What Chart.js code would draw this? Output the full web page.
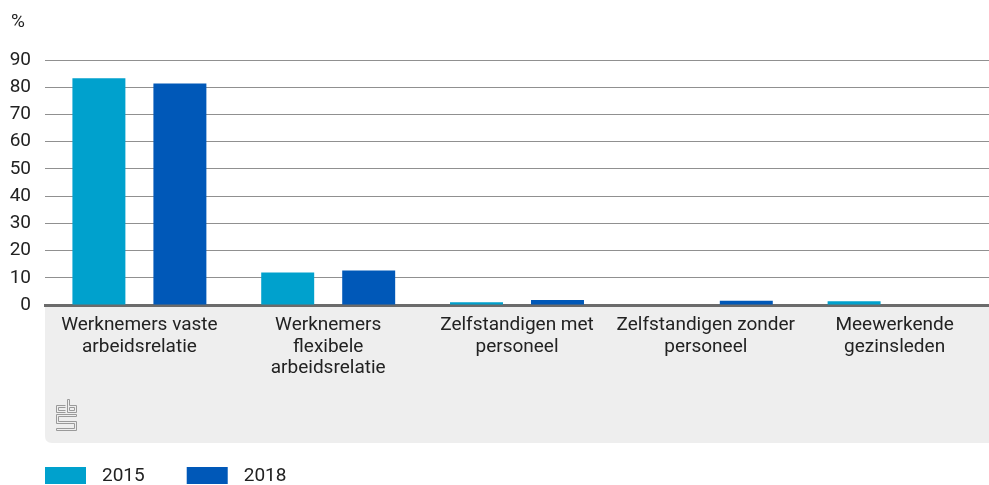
<!DOCTYPE html>
<html>
<head>
<meta charset="utf-8">
<script src="https://cdn.jsdelivr.net/npm/chart.js@4/dist/chart.umd.min.js"></script>
<style>
  html, body { margin: 0; padding: 0; background: #ffffff; }
  canvas { display: block; }
</style>
</head>
<body>
<canvas id="c" width="989" height="485"></canvas>
<script>
const categories = [
  ["Werknemers vaste", "arbeidsrelatie"],
  ["Werknemers", "flexibele", "arbeidsrelatie"],
  ["Zelfstandigen met", "personeel"],
  ["Zelfstandigen zonder", "personeel"],
  ["Meewerkende", "gezinsleden"]
];
const values2015 = [83.3, 11.9, 1.0, 0.2, 1.4];
const values2018 = [81.4, 12.7, 1.8, 1.6, 0];
const seriesLabels = ["2015", "2018"];
const yUnit = "%";

const FONT = "Roboto";
const TEXT = "#222222";

const panelPlugin = {
  id: 'panel',
  beforeDraw(chart) {
    const ctx = chart.ctx, a = chart.chartArea;
    const x0 = a.left, x1 = chart.width, y0 = a.bottom, y1 = 443, r = 7;
    ctx.save();
    ctx.fillStyle = '#eeeeee';
    ctx.beginPath();
    ctx.moveTo(x0, y0);
    ctx.lineTo(x1, y0);
    ctx.lineTo(x1, y1);
    ctx.lineTo(x0 + r, y1);
    ctx.quadraticCurveTo(x0, y1, x0, y1 - r);
    ctx.closePath();
    ctx.fill();
    ctx.restore();
  },
  afterDraw(chart) {
    const ctx = chart.ctx;
    ctx.save();
    // unit label
    ctx.font = `19px ${FONT}`;
    ctx.fillStyle = TEXT;
    ctx.textBaseline = 'middle';
    ctx.textAlign = 'left';
    ctx.fillText(yUnit, 11, 22);
    // logo
    const ox = 56.5, oy = 399.5;
    ctx.strokeStyle = '#9a9a9a';
    ctx.lineWidth = 1;
    ctx.beginPath();
    // c
    ctx.moveTo(ox + 9, oy + 6); ctx.lineTo(ox, oy + 6); ctx.lineTo(ox, oy + 13); ctx.lineTo(ox + 9, oy + 13);
    ctx.moveTo(ox + 9, oy + 8); ctx.lineTo(ox + 2, oy + 8); ctx.lineTo(ox + 2, oy + 11); ctx.lineTo(ox + 9, oy + 11);
    // b
    ctx.moveTo(ox + 11, oy); ctx.lineTo(ox + 11, oy + 13); ctx.lineTo(ox + 20, oy + 13); ctx.lineTo(ox + 20, oy + 6);
    ctx.lineTo(ox + 13, oy + 6); ctx.lineTo(ox + 13, oy); ctx.closePath();
    ctx.rect(ox + 13, oy + 8, 5, 3);
    // S
    ctx.moveTo(ox + 20, oy + 15); ctx.lineTo(ox, oy + 15); ctx.lineTo(ox, oy + 24); ctx.lineTo(ox + 18, oy + 24);
    ctx.lineTo(ox + 18, oy + 29); ctx.lineTo(ox, oy + 29); ctx.lineTo(ox, oy + 31); ctx.lineTo(ox + 20, oy + 31);
    ctx.lineTo(ox + 20, oy + 22); ctx.lineTo(ox + 2, oy + 22); ctx.lineTo(ox + 2, oy + 17); ctx.lineTo(ox + 20, oy + 17);
    ctx.closePath();
    ctx.stroke();
    // legend
    let x = 45;
    chart.data.datasets.forEach(ds => {
      ctx.fillStyle = ds.backgroundColor;
      ctx.fillRect(x, 467, 41, 17);
      ctx.fillStyle = TEXT;
      ctx.font = `19px ${FONT}`;
      ctx.textBaseline = 'middle';
      ctx.fillText(ds.label, x + 57, 476);
      x = x + 57 + ctx.measureText(ds.label).width + 42;
    });
    ctx.restore();
  }
};

new Chart(document.getElementById('c'), {
  type: 'bar',
  data: {
    labels: categories,
    datasets: [
      { label: seriesLabels[0], data: values2015, backgroundColor: '#00a1cd', borderWidth: 0 },
      { label: seriesLabels[1], data: values2018, backgroundColor: '#0058b8', borderWidth: 0 }
    ]
  },
  options: {
    responsive: false,
    animation: false,
    datasets: { bar: { categoryPercentage: 0.858, barPercentage: 0.654 } },
    layout: { padding: { top: 60, right: 0, bottom: 42, left: 0 } },
    plugins: { legend: { display: false }, tooltip: { enabled: false } },
    scales: {
      x: {
        z: 1,
        grid: { display: false, drawTicks: false },
        border: { display: true, color: '#6b6b6b', width: 3 },
        ticks: { font: { family: FONT, size: 19, lineHeight: 1.15 }, color: TEXT, padding: 9, maxRotation: 0, autoSkip: false },
        afterFit(s) { s.height = 138; }
      },
      y: {
        min: 0, max: 90,
        ticks: { stepSize: 10, font: { family: FONT, size: 19 }, color: TEXT, padding: 14 },
        grid: { color: '#909090', drawTicks: false, lineWidth: 1 },
        border: { display: false },
        afterFit(s) { s.width = 45; }
      }
    }
  },
  plugins: [panelPlugin]
});
</script>
</body>
</html>
